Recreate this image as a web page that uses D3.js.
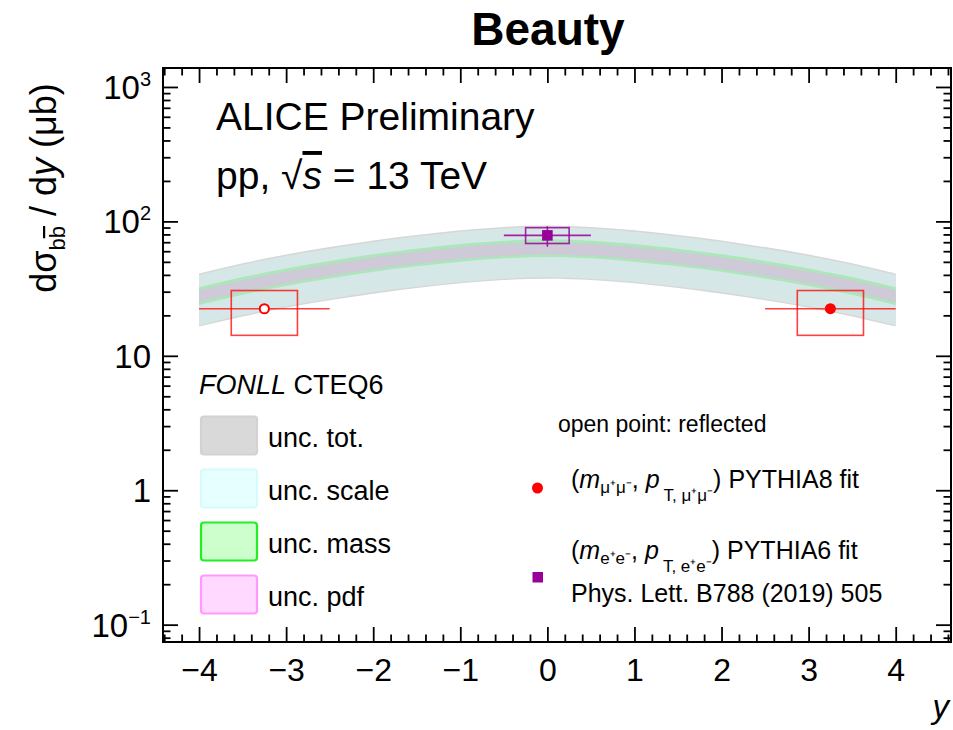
<!DOCTYPE html>
<html><head><meta charset="utf-8">
<script src="https://cdn.jsdelivr.net/npm/d3@7"></script>
<style>
body{margin:0;background:#fff;}
svg{display:block;font-family:"Liberation Sans",Arial,Helvetica,sans-serif;}
</style></head><body>
<svg id="c" width="953" height="730"></svg>
<script>
// ---- FONLL CTEQ6 bands (dσ/dy in μb) ----
const bandY   = [-4,-3.5,-3,-2.5,-2,-1.5,-1,-0.5,0,0.5,1,1.5,2,2.5,3,3.5,4];
const totHi   = [41.0,48.8,56.7,64.4,72.2,79.3,86.0,91.0,93.2,91.0,86.0,79.3,72.2,64.4,56.7,48.8,41.0];
const totLo   = [16.5,19.6,22.8,25.9,29.0,31.9,34.6,36.6,37.5,36.6,34.6,31.9,29.0,25.9,22.8,19.6,16.5];
const scaleHi = [39.9,47.5,55.2,62.6,70.3,77.2,83.7,88.6,90.7,88.6,83.7,77.2,70.3,62.6,55.2,47.5,39.9];
const scaleLo = [16.9,20.1,23.4,26.5,29.8,32.7,35.4,37.5,38.4,37.5,35.4,32.7,29.8,26.5,23.4,20.1,16.9];
const massHi  = [32.3,38.5,44.7,50.8,56.9,62.6,67.8,71.8,73.5,71.8,67.8,62.6,56.9,50.8,44.7,38.5,32.3];
const massLo  = [23.9,28.5,33.1,37.6,42.2,46.3,50.2,53.1,54.4,53.1,50.2,46.3,42.2,37.6,33.1,28.5,23.9];
const pdfHi   = [30.7,36.6,42.4,48.2,54.1,59.4,64.4,68.1,69.8,68.1,64.4,59.4,54.1,48.2,42.4,36.6,30.7];
const pdfLo   = [25.0,29.8,34.5,39.2,44.0,48.3,52.4,55.5,56.8,55.5,52.4,48.3,44.0,39.2,34.5,29.8,25.0];

// ---- measured points ----
// dimuon (PYTHIA8 fit): open = reflected point
const muY      = [-3.25, 3.25];
const muVal    = [22.4, 22.4];
const muXErr   = [0.75, 0.75];
const muBoxHW  = [0.38, 0.38];
const muSysLo  = [14.2, 14.2];
const muSysHi  = [30.6, 30.6];
const muStatLo = [21.4, 21.4];
const muStatHi = [23.4, 23.4];
const muOpen   = [true, false];
// dielectron (PYTHIA6 fit)
const eeY      = [0];
const eeVal    = [78.7];
const eeXErr   = [0.5];
const eeBoxHW  = [0.25];
const eeSysLo  = [68.5];
const eeSysHi  = [89.8];
const eeStatLo = [64.8];
const eeStatHi = [92.0];

// ---- axes ----
const xTicks = [-4,-3,-2,-1,0,1,2,3,4];
const xTickLabels = ["−4","−3","−2","−1","0","1","2","3","4"];
const yTicks = [0.1,1,10,100,1000];
const yTickBase = ["10","1","10","10","10"];
const yTickSup  = ["−1","","","2","3"];

const legendLabels = ["unc. tot.","unc. scale","unc. mass","unc. pdf"];
const legendFill   = ["#d9d9d9","#e6ffff","#ccffcc","#ffd9ff"];
const legendStroke = ["#d2d2d2","#d6fbfb","#22ee22","#ff99ff"];

const svg = d3.select('#c');
const L=163, R=951, T=68, B=642;
const x = d3.scaleLinear().domain([-4.414,4.635]).range([L,R]);
const y = d3.scaleLog().domain([0.0743,1384]).range([B,T]);

// title
svg.append('text').attr('x',548).attr('y',45).attr('text-anchor','middle')
  .attr('font-weight','bold').attr('font-size',46).text('Beauty');

// bands
function band(lo,hi){
  return d3.area().x((d,i)=>x(bandY[i])).y0((d,i)=>y(lo[i])).y1((d,i)=>y(hi[i])).curve(d3.curveMonotoneX)(bandY);
}
svg.append('path').attr('d',band(totLo,totHi)).attr('fill','#d7d7d7');
svg.append('path').attr('d',band(scaleLo,scaleHi)).attr('fill','#d5e7e6');
svg.append('path').attr('d',band(massLo,massHi)).attr('fill','#abe7b9');
svg.append('path').attr('d',band(pdfLo,pdfHi)).attr('fill','#cecad7');

// points
const red='#ff0000', mag='#990099';
const mu = muY.map((v,i)=>({y:v,val:muVal[i],xe:muXErr[i],hw:muBoxHW[i],lo:muSysLo[i],hi:muSysHi[i],slo:muStatLo[i],shi:muStatHi[i],open:muOpen[i]}));
const ee = eeY.map((v,i)=>({y:v,val:eeVal[i],xe:eeXErr[i],hw:eeBoxHW[i],lo:eeSysLo[i],hi:eeSysHi[i],slo:eeStatLo[i],shi:eeStatHi[i]}));

function drawPts(data,col,op){
  const g = svg.append('g');
  g.selectAll('rect.sys').data(data).join('rect')
    .attr('x',d=>x(d.y-d.hw)).attr('width',d=>x(d.y+d.hw)-x(d.y-d.hw))
    .attr('y',d=>y(d.hi)).attr('height',d=>y(d.lo)-y(d.hi))
    .attr('fill','none').attr('stroke',col).attr('stroke-width',1.6).attr('stroke-opacity',op);
  g.selectAll('line.h').data(data).join('line')
    .attr('x1',d=>x(d.y-d.xe)).attr('x2',d=>x(d.y+d.xe)).attr('y1',d=>y(d.val)).attr('y2',d=>y(d.val))
    .attr('stroke',col).attr('stroke-width',1.6).attr('stroke-opacity',op);
  g.selectAll('line.v').data(data).join('line')
    .attr('x1',d=>x(d.y)).attr('x2',d=>x(d.y)).attr('y1',d=>y(d.shi)).attr('y2',d=>y(d.slo))
    .attr('stroke',col).attr('stroke-width',1.6).attr('stroke-opacity',op);
  return g;
}
drawPts(mu,red,0.75).selectAll('circle').data(mu).join('circle')
  .attr('cx',d=>x(d.y)).attr('cy',d=>y(d.val)).attr('r',d=>d.open?4.6:5.5)
  .attr('fill',d=>d.open?'#fff':red).attr('stroke',red).attr('stroke-width',d=>d.open?2:0);
drawPts(ee,mag,0.85).selectAll('rect.m').data(ee).join('rect')
  .attr('x',d=>x(d.y)-5.3).attr('y',d=>y(d.val)-5.3).attr('width',10.6).attr('height',10.6).attr('fill',mag);

// axes
const tickStyle = g=>{ g.select('.domain').remove(); g.selectAll('line').attr('stroke','#000').attr('stroke-width',1.8); };
const xMinor = d3.range(-44,47,2).map(v=>v/10).filter(v=>Math.abs(v-Math.round(v))>1e-6);
const yMinor = [];
[0.01,0.1,1,10,100,1000].forEach(dec=>{ for(let k=2;k<=9;k++){ const v=dec*k; if(v>0.0743&&v<1384) yMinor.push(v);} });

const gxb = svg.append('g').attr('transform',`translate(0,${B})`)
  .call(d3.axisBottom(x).tickValues(xTicks).tickSize(-15).tickPadding(16).tickFormat((d,i)=>xTickLabels[i])).call(tickStyle);
gxb.selectAll('text').attr('font-size',32).attr('font-family','"Liberation Sans",Arial,sans-serif').attr('fill','#000');
svg.append('g').attr('transform',`translate(0,${B})`).call(d3.axisBottom(x).tickValues(xMinor).tickSize(-7.5).tickFormat('')).call(tickStyle);
svg.append('g').attr('transform',`translate(0,${T})`).call(d3.axisTop(x).tickValues(xTicks).tickSize(-15).tickFormat('')).call(tickStyle);
svg.append('g').attr('transform',`translate(0,${T})`).call(d3.axisTop(x).tickValues(xMinor).tickSize(-7.5).tickFormat('')).call(tickStyle);
svg.append('g').attr('transform',`translate(${L},0)`).call(d3.axisLeft(y).tickValues(yTicks).tickSize(-15).tickFormat('')).call(tickStyle);
svg.append('g').attr('transform',`translate(${L},0)`).call(d3.axisLeft(y).tickValues(yMinor).tickSize(-7.5).tickFormat('')).call(tickStyle);
svg.append('g').attr('transform',`translate(${R},0)`).call(d3.axisRight(y).tickValues(yTicks).tickSize(-15).tickFormat('')).call(tickStyle);
svg.append('g').attr('transform',`translate(${R},0)`).call(d3.axisRight(y).tickValues(yMinor).tickSize(-7.5).tickFormat('')).call(tickStyle);

// y tick labels
yTicks.forEach((v,i)=>{
  const t = svg.append('text').attr('x',151).attr('y',y(v)+12).attr('text-anchor','end').attr('font-size',33);
  t.append('tspan').text(yTickBase[i]);
  if(yTickSup[i]) t.append('tspan').attr('font-size',20).attr('dy',-13).text(yTickSup[i]);
});

// frame
svg.append('rect').attr('x',L).attr('y',T).attr('width',R-L).attr('height',B-T)
  .attr('fill','none').attr('stroke','#000').attr('stroke-width',2);

// axis titles
svg.append('text').attr('x',949).attr('y',718).attr('text-anchor','end').attr('font-size',33)
  .attr('font-style','italic').text('y');
const yt = svg.append('text').attr('transform','translate(56,188) rotate(-90)').attr('text-anchor','middle').attr('font-size',36);
yt.append('tspan').text('dσ');
yt.append('tspan').attr('font-size',22).attr('dy',9).text('b');
yt.append('tspan').attr('font-size',22).style('text-decoration','overline').text('b');
yt.append('tspan').attr('dy',-9).text(' / d');
yt.append('tspan').attr('font-style','italic').text('y');
yt.append('tspan').text(' (μb)');

// header texts
svg.append('text').attr('x',216).attr('y',130).attr('font-size',39).text('ALICE Preliminary');
const pp = svg.append('text').attr('x',216).attr('y',189).attr('font-size',39);
pp.append('tspan').text('pp, √');
pp.append('tspan').attr('font-style','italic').style('text-decoration','overline').text('s');
pp.append('tspan').text(' = 13 TeV');

// FONLL legend
const fl = svg.append('text').attr('x',199).attr('y',394).attr('font-size',27);
fl.append('tspan').attr('font-style','italic').text('FONLL');
fl.append('tspan').text(' CTEQ6');
legendLabels.forEach((lab,i)=>{
  const cy = 435.5 + i*53;
  svg.append('rect').attr('x',201).attr('y',cy-19).attr('width',56).attr('height',38).attr('rx',3)
    .attr('fill',legendFill[i]).attr('stroke',legendStroke[i]).attr('stroke-width',2.2);
  svg.append('text').attr('x',268).attr('y',cy+11).attr('font-size',27).text(lab);
});

// data legend
svg.append('text').attr('x',558).attr('y',432).attr('font-size',23).text('open point: reflected');
svg.append('circle').attr('cx',537.5).attr('cy',488).attr('r',5.5).attr('fill',red);
svg.append('rect').attr('x',532.5).attr('y',572).attr('width',10.5).attr('height',10.5).attr('fill',mag);
function fitLine(yb, part, gen){
  const t = svg.append('text').attr('x',571).attr('y',yb).attr('font-size',25);
  t.append('tspan').text('(');
  t.append('tspan').attr('font-style','italic').text('m');
  t.append('tspan').attr('font-size',17).attr('dy',5).text(part);
  t.append('tspan').attr('dy',-5).text(', ');
  t.append('tspan').attr('font-style','italic').text('p');
  t.append('tspan').attr('font-size',17).attr('dy',13).attr('dx',4).text('T, '+part);
  t.append('tspan').attr('dy',-13).text(') '+gen+' fit');
}
fitLine(488,'μ⁺μ⁻','PYTHIA8');
fitLine(559,'e⁺e⁻','PYTHIA6');
svg.append('text').attr('x',571).attr('y',602).attr('font-size',25).text('Phys. Lett. B788 (2019) 505');
</script>
</body></html>
